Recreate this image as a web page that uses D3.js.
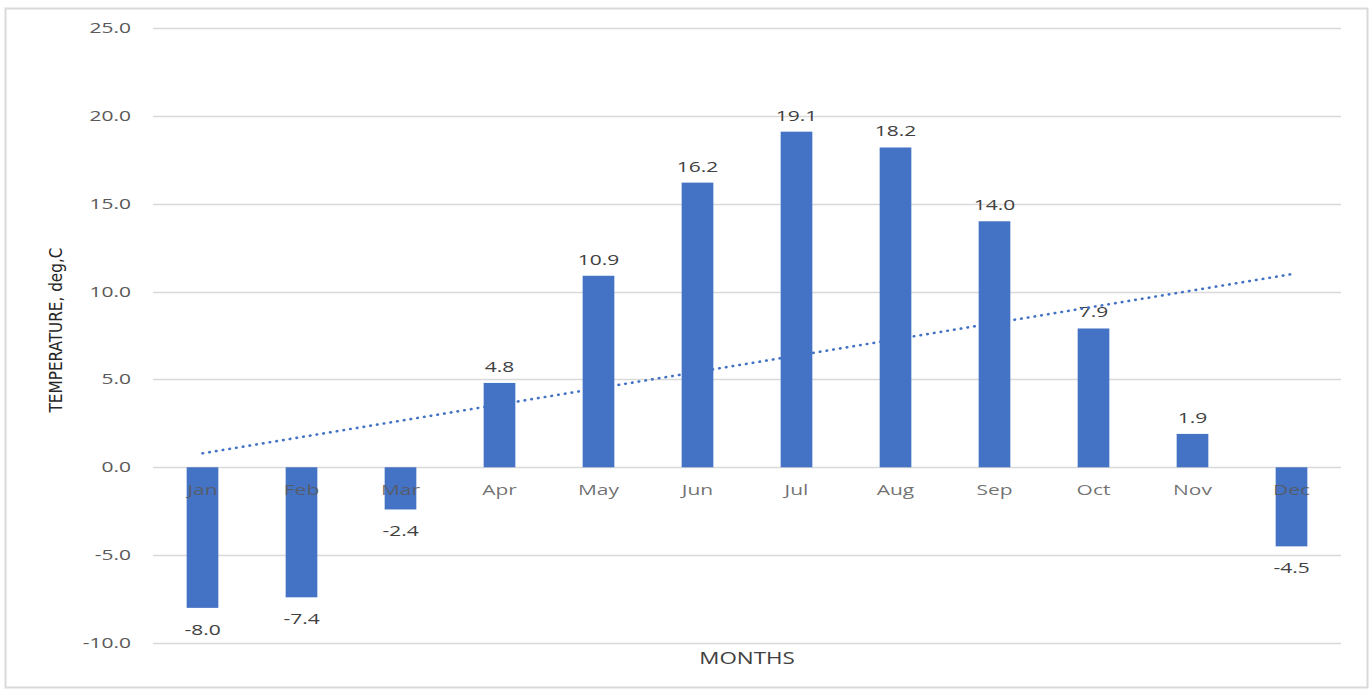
<!DOCTYPE html>
<html>
<head>
<meta charset="utf-8">
<script src="https://cdn.jsdelivr.net/npm/d3@7"></script>
<style>
  html, body { margin: 0; padding: 0; background: #fff; }
  svg { display: block; }
</style>
</head>
<body>
<svg id="chart" width="1372" height="690"></svg>
<script>
// Monthly mean temperature, deg C
const months = ["Jan", "Feb", "Mar", "Apr", "May", "Jun", "Jul", "Aug", "Sep", "Oct", "Nov", "Dec"];
const temps = [-8.0, -7.4, -2.4, 4.8, 10.9, 16.2, 19.1, 18.2, 14.0, 7.9, 1.9, -4.5];
const yTicks = [-10, -5, 0, 5, 10, 15, 20, 25];
const yTitle = "TEMPERATURE, deg,C";
const xTitle = "MONTHS";

const W = 1372, H = 690;
const margin = { left: 153, right: 31, top: 28, bottom: 47 };
const svg = d3.select("#chart");
const font = "'Open Sans', 'Noto Sans', sans-serif";
const barColor = "#4472C4";
const textColor = "#595959";
const wide = 1.4;               // horizontal stretch applied to chart text
const fmt = d => d.toFixed(1);  // plain hyphen for negatives

// outer chart frame
svg.append("rect")
  .attr("x", 5.5).attr("y", 8.5)
  .attr("width", W - 10).attr("height", H - 11)
  .attr("fill", "#fff").attr("stroke", "#d9d9d9").attr("stroke-width", 2);

const x = d3.scaleBand().domain(months)
  .range([margin.left, W - margin.right])
  .paddingInner(0.68).paddingOuter(0.34);
const y = d3.scaleLinear().domain([-10, 25])
  .range([H - margin.bottom, margin.top]);

// draw a set of horizontally stretched labels
function labels(data, px, py, anchor, color, size) {
  return svg.append("g").selectAll("text").data(data).join("text")
    .attr("transform", (d, i) => `translate(${px(d, i)},${py(d, i)}) scale(${wide},1)`)
    .attr("text-anchor", anchor)
    .attr("font-family", font).attr("font-size", size).attr("fill", color);
}

// horizontal gridlines
svg.append("g").selectAll("line").data(yTicks).join("line")
  .attr("x1", margin.left).attr("x2", W - margin.right)
  .attr("y1", d => Math.round(y(d)) + 0.5).attr("y2", d => Math.round(y(d)) + 0.5)
  .attr("stroke", "#d9d9d9").attr("stroke-width", 1.3);

// y-axis tick labels
labels(yTicks, () => margin.left - 22, d => y(d) + 5, "end", textColor, 15)
  .text(fmt);

// bars
svg.append("g").selectAll("rect").data(temps).join("rect")
  .attr("x", (d, i) => x(months[i]))
  .attr("width", x.bandwidth())
  .attr("y", d => y(Math.max(0, d)))
  .attr("height", d => Math.abs(y(d) - y(0)))
  .attr("fill", barColor);

// month labels along the zero line
labels(months, d => x(d) + x.bandwidth() / 2, () => y(0) + 28, "middle", textColor, 15)
  .attr("fill-opacity", 0.85)
  .text(d => d);

// value labels
labels(temps, (d, i) => x(months[i]) + x.bandwidth() / 2,
       d => d >= 0 ? y(d) - 11 : y(d) + 27, "middle", "#404040", 15)
  .text(fmt);

// linear trendline (least squares over month index)
const n = temps.length;
const xs = d3.range(1, n + 1);
const mx = d3.mean(xs), my = d3.mean(temps);
const slope = d3.sum(xs, (v, i) => (v - mx) * (temps[i] - my)) / d3.sum(xs, v => (v - mx) ** 2);
const icpt = my - slope * mx;
const trend = [1, n].map(v => [x(months[v - 1]) + x.bandwidth() / 2, y(icpt + slope * v)]);
svg.append("path")
  .attr("d", d3.line()(trend))
  .attr("fill", "none").attr("stroke", barColor)
  .attr("stroke-width", 2.6).attr("stroke-linecap", "round")
  .attr("stroke-dasharray", "0.6 6.2");

// axis titles
svg.append("text")
  .attr("transform", `translate(62,330) rotate(-90)`)
  .attr("text-anchor", "middle")
  .attr("font-family", "'Liberation Sans Narrow', 'DejaVu Sans Condensed', sans-serif")
  .attr("font-size", 17).attr("fill", "#262626")
  .text(yTitle);

labels([xTitle], () => (margin.left + W - margin.right) / 2, () => 664, "middle", "#404040", 16)
  .text(d => d);
</script>
</body>
</html>
